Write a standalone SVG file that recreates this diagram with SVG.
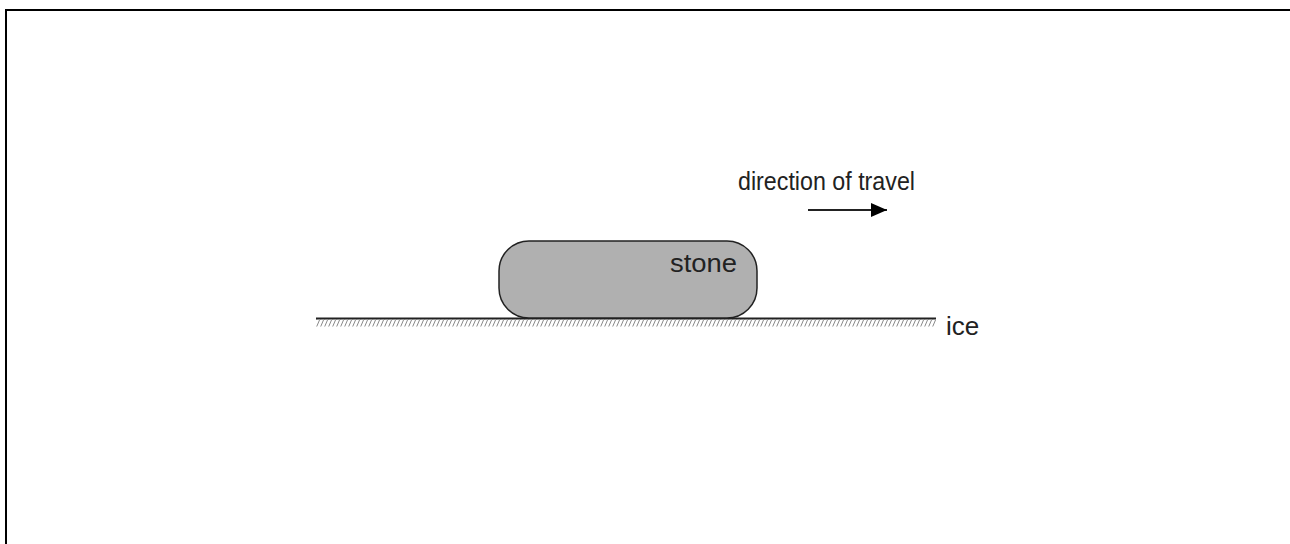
<svg xmlns="http://www.w3.org/2000/svg" width="1290" height="544" viewBox="0 0 1290 544">
<style>
text{font-family:"Liberation Sans",Arial,sans-serif;fill:#222}
.frame{stroke:#000;stroke-width:2;fill:none}
</style>
<defs>
<pattern id="hatch" x="0" y="320" width="4" height="7" patternUnits="userSpaceOnUse">
<line x1="0.5" y1="7" x2="3.5" y2="0" stroke="#888" stroke-width="1"/>
</pattern>
<marker id="ah" markerWidth="16" markerHeight="14" refX="16" refY="7" orient="auto" markerUnits="userSpaceOnUse">
<path d="M0,0 L16,7 L0,14 z" fill="#000"/>
</marker>
</defs>
<rect width="1290" height="544" fill="#fff"/>
<path class="frame" d="M6,544 V10 H1290"/>
<g id="ice">
<rect x="316" y="319.5" width="620" height="7" fill="url(#hatch)"/>
<line x1="316" y1="318.5" x2="936" y2="318.5" stroke="#222" stroke-width="1.8"/>
<text x="946" y="335" font-size="26">ice</text>
</g>
<g id="stone">
<rect x="499" y="241" width="258" height="77" rx="30" ry="30" fill="#b0b0b0" stroke="#222" stroke-width="1.5"/>
<text x="670" y="272" font-size="26" textLength="67" lengthAdjust="spacingAndGlyphs">stone</text>
</g>
<g id="direction">
<text x="738" y="190" font-size="25.5" textLength="177" lengthAdjust="spacingAndGlyphs">direction of travel</text>
</g>
<g id="connectors">
<line x1="808" y1="210" x2="887" y2="210" stroke="#222" stroke-width="1.8" marker-end="url(#ah)"/>
</g>
</svg>
